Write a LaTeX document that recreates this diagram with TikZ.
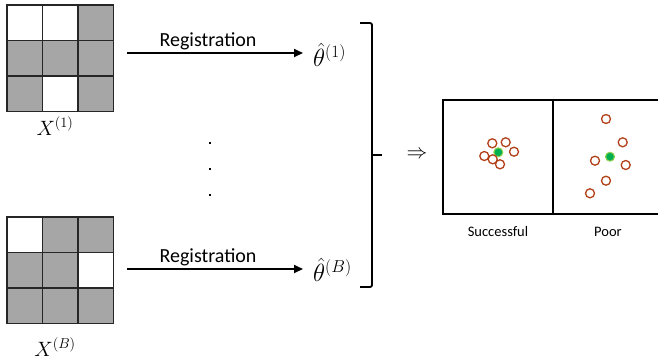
\documentclass[tikz,border=0pt]{standalone}
\usepackage{fontspec}
\setsansfont{Carlito}
\usetikzlibrary{arrows.meta}
\definecolor{cellgray}{RGB}{166,166,166}
\definecolor{ringred}{RGB}{178,64,24}
\definecolor{dotgreen}{RGB}{0,176,80}
\definecolor{glowgreen}{RGB}{146,208,80}
\tikzset{
  cell/.style={draw=black!85, line width=1.1pt},
  regarrow/.style={line width=1.8pt, -{Triangle[length=9pt,width=8pt]}},
  reglabel/.style={font=\sffamily\fontsize{20}{24}\selectfont, inner sep=0pt},
  mathlabel/.style={font=\fontsize{22}{26}\selectfont, inner sep=0pt},
  thetalabel/.style={font=\fontsize{24}{28}\selectfont, inner sep=0pt},
  caption/.style={font=\sffamily\fontsize{14.5}{17}\selectfont, inner sep=0pt},
  ring/.style={circle, draw=ringred, line width=1.3pt, minimum size=9pt, inner sep=0pt, fill=white},
  centre/.style={circle, fill=dotgreen, minimum size=9pt, inner sep=0pt, draw=glowgreen, line width=1pt},
  dotmark/.style={fill=black, minimum size=2pt, inner sep=0pt, rectangle},
  panel/.style={draw=black, line width=1.4pt}
}
\begin{document}
\begin{tikzpicture}[x=1pt,y=-1pt]
\useasboundingbox (0,0) rectangle (658,362);
% grid 1
\def\cs{35.5}
\foreach \r/\c/\f in {0/0/white,0/1/white,0/2/cellgray,1/0/cellgray,1/1/cellgray,1/2/cellgray,2/0/cellgray,2/1/white,2/2/cellgray}{
  \path[cell, fill=\f] (7+\c*\cs, 5+\r*\cs) rectangle ++(\cs,\cs);
}
\node[mathlabel] (x1) at (55,126) {$X^{(1)}$};
% grid 2
\foreach \r/\c/\f in {0/0/white,0/1/cellgray,0/2/cellgray,1/0/cellgray,1/1/cellgray,1/2/white,2/0/cellgray,2/1/cellgray,2/2/cellgray}{
  \path[cell, fill=\f] (7+\c*\cs, 217+\r*\cs) rectangle ++(\cs,\cs);
}
\node[mathlabel] (xb) at (55,347) {$X^{(B)}$};
% arrows
\node[thetalabel, anchor=west] (t1) at (313,55) {$\hat{\theta}^{(1)}$};
\node[thetalabel, anchor=west] (t2) at (313,270) {$\hat{\theta}^{(B)}$};
\coordinate (a1s) at (127,53);
\coordinate (a1e) at (303,53);
\coordinate (a2s) at (127,269);
\coordinate (a2e) at (303,269);
\draw[regarrow] (a1s) -- (a1e);
\draw[regarrow] (a2s) -- (a2e);
\node[reglabel] (r1) at (208,41) {Registration};
\node[reglabel] (r2) at (208,257) {Registration};
% vertical dots
\node[dotmark] (d1) at (209.5,142.5) {};
\node[dotmark] (d2) at (209.5,168.5) {};
\node[dotmark] (d3) at (209.5,195) {};
% bracket
\draw[line width=1.8pt, rounded corners=2pt] (360,23) -- (372,23) -- (372,287) -- (360,287);
\draw[line width=1.8pt] (372,155) -- (382,155);
\node[font=\fontsize{22}{26}\selectfont, inner sep=0pt] (impl) at (417,155) {$\Rightarrow$};
% panels
\draw[panel] (443,100) rectangle (553,214);
\draw[panel] (553,100) -- (662,100);
\draw[panel] (553,214) -- (662,214);
\node[caption] (succ) at (498,232) {Successful};
\node[caption] (poor) at (608,232) {Poor};
% successful points
\foreach \p in {(492.3,143.3),(505.7,142.3),(514,151.7),(484.3,156)}{
  \node[ring] at \p {};
}
\node[centre] (g1) at (498.3,152.3) {};
\node[ring] at (492.7,159.3) {};
\node[ring] at (500,164.3) {};
% poor points
\foreach \p in {(606,119),(622.7,142.3),(595,160.7),(625.7,165),(606,180.7),(590,193.3)}{
  \node[ring] at \p {};
}
\node[centre] (g2) at (610,156.7) {};
\end{tikzpicture}
\end{document}
